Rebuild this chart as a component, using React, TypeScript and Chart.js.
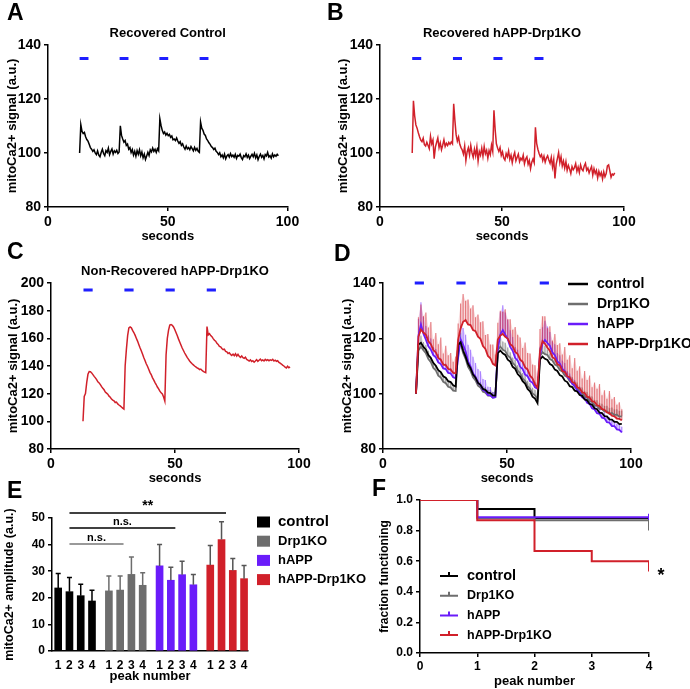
import React, { useEffect, useRef } from 'react';
import { Chart, registerables } from 'chart.js';

Chart.register(...registerables);

const FONT = '"Liberation Sans", Arial, Helvetica, sans-serif';
const PAGE_W = 690;
const PAGE_H = 689;

const BLACK = '#000000';
const GREY = '#6e6e6e';
const PURPLE = '#6a1cfa';
const RED = '#d1202a';
const BLUE = '#1f1fff';

// ---------- Panels A / B / C : single traces (sampled every 0.5 s) ----------
const traceDt = 0.5;
const traceA_t0 = 13.2;
const traceA = [
  100, 110.5, 108.0, 107.2, 107.6, 106.0, 105.0, 104.4, 103.2, 102.0,
  101.4, 100.6, 101.2, 100.0, 99.4, 100.8, 99.2, 98.6, 100.2, 101.4,
  99.8, 99.0, 100.9, 100.2, 101.8, 99.4, 100.6, 101.5, 99.6, 100.8,
  100.2, 101.0, 99.8, 100.4,
  110.1, 106.5, 105.2, 104.0, 104.6, 102.8, 103.3, 101.4, 102.0, 100.2,
  101.3, 99.2, 100.6, 98.8, 100.9, 99.5, 101.2, 99.0, 100.4, 98.2,
  99.6, 97.6, 98.9, 100.3, 99.1, 101.2, 100.4, 101.8, 100.6, 101.4,
  100.2, 101.6, 100.8,
  112.7, 110.2, 108.4, 107.2, 107.8, 106.6, 107.3, 106.4, 106.9, 105.8,
  106.3, 104.9, 105.2, 104.6, 105.6, 104.4, 103.6, 104.2, 102.8, 103.4,
  102.2, 101.4, 102.6, 101.5, 102.0, 101.2, 102.4, 101.6, 100.8, 102.1,
  101.0, 101.7, 100.6, 100.2,
  111.5, 109.2, 108.4, 107.0, 106.5, 105.2, 104.6, 103.8, 103.2, 102.4,
  102.0, 101.3, 101.8, 100.6, 100.2, 99.4, 100.1, 98.6, 99.3, 98.2,
  99.6, 97.8, 98.9, 99.4, 98.5, 99.8, 98.7, 99.2, 98.4, 99.5,
  98.0, 99.1, 98.8, 99.6, 98.3, 97.6, 99.0, 98.6, 99.7, 98.4,
  99.2, 97.9, 98.8, 99.5, 98.6, 99.9, 98.2, 99.3, 97.5, 98.7,
  99.6, 98.4, 99.1, 97.8, 99.4, 98.9, 100.2, 98.5, 99.0, 98.1,
  99.7, 98.6, 99.3, 98.8, 99.5, 99.0,
];

const traceB_t0 = 13.2;
const traceB = [
  100, 119.3, 113.8, 110.4, 109.2, 107.5, 106.0, 104.8, 104.2, 105.5,
  103.1, 102.6, 104.0, 102.8, 101.6, 106.2, 103.4, 104.8, 97.9, 102.2,
  103.9, 105.6, 102.0, 103.8, 101.2, 102.9, 104.9, 102.4, 103.6, 102.8,
  103.9, 103.2, 104.1, 103.4,
  118.2, 112.0, 106.8, 104.4, 105.9, 103.2, 102.0, 101.1, 99.6, 102.6,
  97.2, 100.4, 101.9, 99.3, 102.8, 100.1, 98.4, 101.4, 99.0, 102.2,
  97.0, 100.6, 99.2, 101.8, 98.8, 102.4, 99.7, 101.0, 98.1, 100.9,
  99.4, 102.9, 100.6,
  115.8, 108.6, 103.4, 101.8, 100.6, 102.0, 99.1, 100.4, 98.2, 97.4,
  99.8, 98.6, 100.8, 97.6, 99.2, 96.4, 98.8, 100.2, 97.1, 98.4,
  99.6, 96.8, 98.1, 97.4, 99.2, 96.0, 97.8, 98.6, 95.8, 97.2,
  94.2, 96.6, 97.8, 96.4,
  109.5, 103.6, 101.4, 99.8, 98.6, 99.4, 97.2, 98.8, 96.6, 98.1,
  99.0, 97.4, 96.2, 98.4, 94.8, 97.6, 90.6, 95.8, 97.9, 100.2,
  96.4, 98.6, 95.2, 97.0, 94.4, 96.8, 93.6, 95.4, 94.1, 92.4,
  95.0, 93.8, 94.6, 96.1, 93.2, 94.8, 92.8, 95.6, 94.0, 93.4,
  95.2, 96.2, 93.6, 94.4, 92.6, 93.9, 95.0, 91.8, 94.2, 92.4,
  93.6, 90.8, 93.2, 91.6, 92.8, 90.4, 93.0, 91.2, 92.4, 95.2,
  95.6, 93.4, 91.0, 92.2, 91.8, 92.6,
];

const traceC_t0 = 12.9;
const traceC = [
  100, 118, 120, 128, 134, 136, 135.8, 135, 133.8, 132.5,
  131.4, 130.1, 128.6, 127.8, 126.5, 125.1, 123.9, 122.8, 121.2, 120.4,
  119.6, 118.2, 117.4, 116.1, 115.3, 114.8, 113.6, 113.9, 112.6, 111.8,
  111.2, 110.4, 109.6, 108.9,
  140, 152, 162, 167.5, 168.2, 167.6, 165.8, 164.2, 162.3, 160.1,
  158.0, 155.6, 153.2, 151.0, 148.6, 146.2, 144.0, 141.6, 139.8, 137.6,
  135.4, 133.8, 131.6, 130.0, 128.2, 126.6, 124.8, 123.4, 121.8, 120.6,
  119.8, 117.6, 114.6,
  148, 160, 166, 169.6, 170, 169.4, 168.2, 166.4, 164.2, 162.0,
  159.6, 157.4, 155.2, 153.0, 151.2, 149.4, 147.8, 146.2, 145.0, 143.6,
  142.6, 141.6, 140.8, 140.0, 139.4, 138.6, 138.2, 137.4, 137.8, 136.8,
  136.2, 135.6, 135.2,
  168.5, 162.5, 163.4, 162.0, 161.2, 159.8, 158.6, 157.9, 156.4, 155.6,
  154.2, 153.8, 152.6, 151.8, 152.2, 150.6, 150.2, 149.0, 149.6, 148.4,
  147.6, 148.6, 147.4, 148.8, 147.2, 148.4, 147.0, 146.2, 147.3, 146.0,
  145.6, 146.4, 144.8, 144.2, 143.6, 144.4, 143.2, 143.8, 142.8, 143.6,
  144.6, 143.4, 144.2, 145.0, 143.8, 144.4, 143.6, 144.8, 144.0, 144.6,
  143.8, 144.4, 144.0, 144.8, 143.6, 144.2, 143.4, 143.8, 142.6, 142.0,
  141.4, 140.6, 140.0, 139.2, 138.6, 139.8, 138.8, 139.4,
];

// stimulation bars (blue dashes)
const stimStartsAB = [13.2, 29.9, 46.5, 63.3];
const stimStartsC = [13.1, 29.6, 46.2, 62.8];
const stimStartsD = [12.8, 29.6, 46.4, 63.2];
const stimLen = 3.7;
const stimLevelAB = 135;
const stimLevelC = 195;
const stimLevelD = 140;

// ---------- Panel D : group means (1 s sampling) + upper SEM ----------
const meanT0 = 13.3;
const meanDt = 1;
const dControl = [
  100, 117.8, 118.4, 116.9, 115.9, 113.9, 112.9, 111.1, 110.1, 108.5, 107.8, 106.3, 105.8, 104.5, 104.2, 103.0, 102.6,
  117.6, 118.6, 115.6, 113.4, 110.7, 109.2, 106.9, 105.8, 103.9, 103.2, 101.7, 101.4, 100.4, 100.2, 99.4, 99.3,
  114.6, 115.6, 114.6, 114.0, 112.3, 111.6, 109.7, 109.0, 107.1, 106.2, 104.5, 103.6, 101.7, 100.8, 98.9, 98.2, 96.6,
  112.4, 113.4, 112.6, 112.2, 110.7, 110.2, 108.7, 108.2, 106.7, 106.2, 104.7, 104.2, 102.7, 102.4, 101.1, 100.8, 99.5,
  99.2, 97.9, 97.6, 96.3, 96.0, 94.7, 94.4, 93.1, 93.0, 91.9, 91.8, 90.7, 90.6, 89.8, 89.8, 89.0, 89.1,
];
const dDrp1 = [
  100, 115.6, 117.0, 115.7, 114.6, 112.5, 111.4, 109.3, 108.4, 106.5, 105.8, 104.3, 103.8, 102.5, 102.2, 101.1, 101.0,
  116.4, 118.0, 114.7, 112.6, 109.7, 108.2, 105.9, 104.8, 102.9, 102.2, 100.7, 100.4, 99.3, 99.4, 98.6, 98.7,
  115.8, 117.0, 115.9, 115.4, 113.7, 113.0, 111.1, 110.2, 108.3, 107.4, 105.5, 104.6, 102.7, 101.8, 100.1, 99.4, 98.0,
  113.6, 115.0, 114.3, 114.0, 112.5, 112.0, 110.5, 110.0, 108.5, 108.0, 106.5, 106.0, 104.5, 104.0, 102.5, 102.0, 100.5,
  100.2, 98.9, 98.6, 97.3, 97.0, 95.7, 95.6, 94.5, 94.4, 93.5, 93.6, 92.7, 93.0, 92.3, 92.4, 91.7, 91.8,
];
const dHapp = [
  100, 121.0, 125.0, 121.7, 119.5, 117.1, 115.9, 113.9, 113.1, 111.3, 110.7, 109.1, 108.9, 107.5, 107.3, 105.9, 105.6,
  113.0, 119.6, 117.7, 115.3, 111.7, 109.9, 107.3, 106.1, 103.9, 103.1, 101.3, 100.9, 99.5, 99.4, 98.5, 98.8,
  116.0, 121.4, 123.0, 121.3, 119.7, 116.9, 115.5, 112.9, 111.9, 109.7, 108.9, 106.9, 106.3, 104.5, 103.9, 102.3, 101.8,
  114.0, 118.0, 119.4, 118.3, 117.3, 114.9, 113.9, 111.7, 110.9, 108.9, 108.1, 106.1, 105.3, 103.5, 102.9, 101.1, 100.5,
  98.7, 98.3, 96.7, 96.3, 94.7, 94.3, 92.9, 92.7, 91.3, 91.1, 89.7, 89.5, 88.3, 88.3, 87.1, 86.9, 86.0,
];
const dDko = [
  100, 120.6, 123.2, 122.1, 121.3, 118.9, 117.9, 115.7, 114.9, 112.9, 112.3, 110.5, 110.3, 108.9, 108.7, 107.5, 107.4,
  119.4, 123.6, 126.0, 126.6, 125.0, 124.8, 123.0, 122.6, 120.6, 119.8, 117.2, 116.2, 113.6, 112.8, 110.8, 110.2,
  119.6, 121.0, 121.6, 120.5, 119.9, 117.9, 117.1, 115.1, 114.3, 112.3, 111.5, 109.5, 108.7, 106.5, 105.5, 103.3, 102.2,
  115.4, 119.0, 118.0, 116.6, 115.4, 113.2, 112.6, 110.6, 110.2, 108.2, 107.9, 106.3, 105.9, 104.2, 103.9, 102.3, 101.9,
  100.5, 100.2, 98.9, 98.6, 97.3, 97.0, 95.8, 95.5, 94.4, 94.2, 93.2, 93.0, 92.0, 91.8, 91.0, 90.9, 90.4,
];
const errDrp1 = [
  0, 3, 4, 3, 3, 3, 2, 2, 2, 2, 2, 2, 2, 2, 2, 2, 2,
  3, 4, 3, 3, 2, 2, 2, 2, 2, 2, 2, 2, 2, 2, 2, 2,
  3, 4, 3, 3, 3, 2, 2, 2, 2, 2, 2, 2, 2, 2, 2, 2, 2,
  3, 3, 3, 2, 2, 2, 2, 2, 2, 2, 2, 2, 2, 2, 2, 2, 2,
  2, 2, 2, 2, 2, 2, 2, 2, 2, 2, 2, 2, 2, 2, 2, 2, 2,
];
const errHapp = [
  0, 6, 8, 6, 5, 4, 4, 3, 3, 3, 2, 2, 2, 2, 2, 2, 2,
  3, 5, 6, 6, 6, 6, 6, 5, 5, 5, 4, 4, 3, 3, 2, 2,
  3, 8, 9, 8, 7, 6, 5, 4, 4, 3, 3, 3, 3, 2, 2, 2, 2,
  3, 6, 7, 6, 5, 4, 4, 3, 3, 3, 3, 2, 2, 2, 2, 2, 2,
  2, 2, 2, 2, 2, 2, 2, 2, 2, 2, 2, 2, 2, 2, 2, 2, 2,
];
const errDko = [
  0, 7, 9, 6, 8, 5, 8, 4, 7, 5, 8, 4, 7, 5, 6, 4, 6,
  6, 9, 10, 7, 9, 6, 9, 5, 8, 6, 9, 5, 8, 5, 7, 4,
  6, 9, 8, 10, 7, 9, 6, 9, 7, 8, 5, 9, 6, 8, 5, 7, 4,
  8, 9, 10, 7, 9, 6, 9, 7, 8, 6, 9, 6, 8, 5, 9, 6, 8,
  5, 8, 6, 8, 5, 7, 6, 8, 5, 7, 5, 8, 6, 7, 5, 6, 4,
];

// ---------- Panel E : amplitudes ----------
const groupNames = ['control', 'Drp1KO', 'hAPP', 'hAPP-Drp1KO'];
const peakLabels = ['1', '2', '3', '4'];
const ampControl = [23.7, 22.3, 20.8, 18.8];
const ampDrp1 = [22.6, 22.9, 28.8, 24.7];
const ampHapp = [32.0, 26.6, 28.7, 24.9];
const ampDko = [32.3, 41.9, 30.3, 27.2];
const ampErrControl = [5.4, 5.3, 4.3, 4.0];
const ampErrDrp1 = [5.6, 5.3, 6.5, 4.7];
const ampErrHapp = [8.0, 4.9, 5.0, 3.9];
const ampErrDko = [7.4, 6.7, 4.5, 4.9];
// significance brackets: [from bar slot, to bar slot, height, label]
const sigFrom = [1, 1, 1];
const sigTo = [5.8, 10.4, 14.9];
const sigLevel = [40.2, 46.2, 51.9];
const sigLabel = ['n.s.', 'n.s.', '**'];

// ---------- Panel F : fraction functioning ----------
const kmControlX = [0, 1, 2, 4];
const kmControlY = [1, 0.941, 0.882, 0.882];
const kmDrp1X = [0, 1, 2, 4, 4];
const kmDrp1Y = [1, 0.88, 0.867, 0.867, 0.8];
const kmHappX = [0, 1, 4, 4, 4];
const kmHappY = [1, 0.887, 0.887, 0.91, 0.87];
const kmDkoX = [0, 1, 2, 3, 4, 4];
const kmDkoY = [1, 0.867, 0.667, 0.6, 0.6, 0.533];
const starF = { x: 4.21, y: 0.53, text: '*' };

// ---------- helpers ----------
type Frame = { L: number; R: number; T: number; B: number; yTitleX: number; xTitleY: number; xTickY: number };
type TextItem = { text: string; x: number; y: number; size: number; align?: CanvasTextAlign; baseline?: CanvasTextBaseline; color?: string };

function drawTexts(ctx: CanvasRenderingContext2D, items: TextItem[]) {
  for (const it of items) {
    ctx.font = `bold ${it.size}px ${FONT}`;
    ctx.fillStyle = it.color || '#000';
    ctx.textAlign = it.align || 'center';
    ctx.textBaseline = it.baseline || 'middle';
    ctx.fillText(it.text, it.x, it.y);
  }
}

const textPlugin = (items: TextItem[]) => ({
  id: 'panelTexts',
  afterDraw(chart: any) {
    const ctx = chart.ctx;
    ctx.save();
    drawTexts(ctx, items);
    ctx.restore();
  },
});

type LegendSpec = { kind: 'line' | 'box' | 'km'; x0: number; x1: number; textX: number; y0: number; dy: number; lw: number; boxH?: number };
const legendPlugin = (colors: string[], sizes: number[], spec: LegendSpec) => ({
  id: 'customLegend',
  afterDraw(chart: any) {
    const ctx: CanvasRenderingContext2D = chart.ctx;
    ctx.save();
    groupNames.forEach((name, i) => {
      const y = spec.y0 + i * spec.dy;
      if (spec.kind === 'box') {
        ctx.fillStyle = colors[i];
        const h = spec.boxH || 11;
        ctx.fillRect(spec.x0, y - h / 2, spec.x1 - spec.x0, h);
      } else {
        ctx.strokeStyle = colors[i];
        ctx.lineWidth = spec.lw;
        ctx.beginPath();
        ctx.moveTo(spec.x0, y);
        ctx.lineTo(spec.x1, y);
        if (spec.kind === 'km') {
          const mx = (spec.x0 + spec.x1) / 2;
          ctx.moveTo(mx, y - 4);
          ctx.lineTo(mx, y);
        }
        ctx.stroke();
      }
      drawTexts(ctx, [{ text: name, x: spec.textX, y, size: sizes[i], align: 'left' }]);
    });
    ctx.restore();
  },
});

function makeOptions(f: Frame, c: any) {
  const padLeft = f.yTitleX - c.yTitleSize * 0.6;
  const xH = f.xTitleY + c.xTitleSize * 0.6 - f.B;
  const xPad = f.xTickY - f.B - c.xTickLen - c.xTickSize * 0.6;
  return {
    responsive: false,
    animation: false,
    devicePixelRatio: 1,
    events: [],
    layout: { padding: { left: padLeft, top: f.T, right: PAGE_W - f.R, bottom: PAGE_H - f.B - xH } },
    plugins: { legend: { display: false }, tooltip: { enabled: false }, title: { display: false } },
    scales: {
      x: {
        type: 'linear',
        min: c.xMin,
        max: c.xMax,
        offset: false,
        afterBuildTicks: c.xAfterBuild,
        ticks: {
          stepSize: c.xStep,
          autoSkip: false,
          maxRotation: 0,
          minRotation: 0,
          padding: xPad,
          color: '#000',
          font: { family: FONT, size: c.xTickSize, weight: 'bold' },
          callback: c.xCallback,
        },
        grid: { drawOnChartArea: false, drawTicks: c.xTickLen > 0, tickLength: c.xTickLen, color: '#000', lineWidth: 1.5, offset: false },
        border: { display: true, color: '#000', width: 1.5 },
        title: { display: true, text: c.xTitle, color: '#000', padding: 0, font: { family: FONT, size: c.xTitleSize, weight: 'bold' } },
        afterFit: (s: any) => {
          s.height = xH;
        },
      },
      y: {
        type: 'linear',
        min: c.yMin,
        max: c.yMax,
        ticks: {
          stepSize: c.yStep,
          padding: 3,
          color: '#000',
          font: { family: FONT, size: c.yTickSize, weight: 'bold' },
          callback: c.yCallback,
        },
        grid: { drawOnChartArea: false, drawTicks: true, tickLength: 4, color: '#000', lineWidth: 1.5 },
        border: { display: true, color: '#000', width: 1.5 },
        title: { display: true, text: c.yTitle, color: '#000', padding: 0, font: { family: FONT, size: c.yTitleSize, weight: 'bold' } },
        afterFit: (s: any) => {
          s.width = f.L - padLeft;
        },
      },
    },
  };
}

const toPoints = (t0: number, dt: number, vals: number[]) => vals.map((v, i) => ({ x: t0 + i * dt, y: v }));
const zip = (xs: number[], ys: number[]) => xs.map((x, i) => ({ x, y: ys[i] }));
const stimPoints = (starts: number[], len: number, level: number) =>
  starts.flatMap((s) => [
    { x: s, y: level },
    { x: s + len, y: level },
    { x: s + len, y: null },
  ]);

const stimDataset = (starts: number[], level: number) => ({
  data: stimPoints(starts, stimLen, level),
  borderColor: BLUE,
  borderWidth: 3,
  borderCapStyle: 'butt',
  pointRadius: 0,
  spanGaps: false,
  clip: false,
  order: -1,
});

const traceDataset = (pts: any[], color: string, width = 1.5, order = 0) => ({
  data: pts,
  borderColor: color,
  borderWidth: width,
  pointRadius: 0,
  tension: 0,
  order,
});

const FRAME_A: Frame = { L: 48, R: 287.5, T: 45, B: 207, yTitleX: 12, xTitleY: 236, xTickY: 222 };
const FRAME_B: Frame = { L: 380, R: 624, T: 45, B: 207, yTitleX: 343, xTitleY: 236, xTickY: 222 };
const FRAME_C: Frame = { L: 51, R: 299, T: 283, B: 449, yTitleX: 13, xTitleY: 478, xTickY: 464 };
const FRAME_D: Frame = { L: 383, R: 631, T: 283, B: 449, yTitleX: 347, xTitleY: 478, xTickY: 464 };
const FRAME_E: Frame = { L: 52, R: 248, T: 518, B: 651, yTitleX: 10, xTitleY: 676, xTickY: 666 };
const FRAME_F: Frame = { L: 420, R: 649, T: 500, B: 653, yTitleX: 385, xTitleY: 681, xTickY: 667 };

const timeAxis = { xMin: 0, xMax: 100, xStep: 50, xTitle: 'seconds', xTitleSize: 13, xTickSize: 14, xTickLen: 4, yTitle: 'mitoCa2+ signal (a.u.)', yTitleSize: 13, yTickSize: 14 };

function makeTraceChart(canvas: HTMLCanvasElement, f: Frame, pts: any[], color: string, stims: number[], level: number, yMin: number, yMax: number, title: string, letter: string, letterX: number, letterY: number) {
  return new Chart(canvas, {
    type: 'line',
    data: { datasets: [stimDataset(stims, level), traceDataset(pts, color)] as any },
    options: makeOptions(f, { ...timeAxis, yMin, yMax, yStep: 20 }) as any,
    plugins: [
      textPlugin([
        { text: title, x: (f.L + f.R) / 2, y: f.T - 12, size: 13 },
        { text: letter, x: letterX, y: letterY, size: 23, align: 'left', baseline: 'alphabetic' },
      ]),
    ],
  });
}

function makeD(canvas: HTMLCanvasElement) {
  const series = [
    { vals: dDrp1, err: errDrp1, line: 'rgba(110,110,110,0.55)', fill: 'rgba(110,110,110,0.18)' },
    { vals: dHapp, err: errHapp, line: 'rgba(110,40,255,0.5)', fill: 'rgba(110,40,255,0.16)' },
    { vals: dDko, err: errDko, line: 'rgba(214,40,48,0.55)', fill: 'rgba(214,40,48,0.16)' },
  ];
  const errPlugin = {
    id: 'semD',
    beforeDatasetsDraw(chart: any) {
      const { ctx, chartArea: ca, scales } = chart;
      ctx.save();
      ctx.beginPath();
      ctx.rect(ca.left, ca.top, ca.right - ca.left, ca.bottom - ca.top);
      ctx.clip();
      for (const s of series) {
        const px = (i: number) => scales.x.getPixelForValue(meanT0 + i * meanDt);
        // light band between mean and mean + SEM
        ctx.fillStyle = s.fill;
        ctx.beginPath();
        s.vals.forEach((v, i) => {
          const X = px(i);
          const Y = scales.y.getPixelForValue(v + s.err[i]);
          if (i === 0) ctx.moveTo(X, Y);
          else ctx.lineTo(X, Y);
        });
        for (let i = s.vals.length - 1; i >= 0; i--) ctx.lineTo(px(i), scales.y.getPixelForValue(s.vals[i]));
        ctx.closePath();
        ctx.fill();
        // individual SEM bars
        ctx.strokeStyle = s.line;
        ctx.lineWidth = 1.2;
        ctx.beginPath();
        s.vals.forEach((v, i) => {
          const e = s.err[i];
          if (!e) return;
          ctx.moveTo(px(i), scales.y.getPixelForValue(v));
          ctx.lineTo(px(i), scales.y.getPixelForValue(v + e));
        });
        ctx.stroke();
      }
      ctx.restore();
    },
  };
  return new Chart(canvas, {
    type: 'line',
    data: {
      datasets: [
        stimDataset(stimStartsD, stimLevelD),
        traceDataset(toPoints(meanT0, meanDt, dControl), BLACK, 1.8, 1),
        traceDataset(toPoints(meanT0, meanDt, dDrp1), GREY, 1.8, 3),
        traceDataset(toPoints(meanT0, meanDt, dHapp), PURPLE, 1.8, 2),
        traceDataset(toPoints(meanT0, meanDt, dDko), RED, 1.8, 0),
      ] as any,
    },
    options: makeOptions(FRAME_D, { ...timeAxis, yMin: 80, yMax: 140, yStep: 20 }) as any,
    plugins: [
      errPlugin,
      legendPlugin([BLACK, GREY, PURPLE, RED], [14, 14, 14, 14], { kind: 'line', x0: 568, x1: 588, textX: 597, y0: 284, dy: 20, lw: 2.5 }),
      textPlugin([{ text: 'D', x: 334, y: 261, size: 23, align: 'left', baseline: 'alphabetic' }]),
    ],
  });
}

function makeE(canvas: HTMLCanvasElement) {
  const groupStep = 4.5;
  const slot = (g: number, k: number) => g * groupStep + k;
  const values = [ampControl, ampDrp1, ampHapp, ampDko];
  const errs = [ampErrControl, ampErrDrp1, ampErrHapp, ampErrDko];
  const colors = [BLACK, '#6d6d6d', PURPLE, RED];
  const errColors = [BLACK, '#6d6d6d', '#555555', '#555555'];
  const positions = values.flatMap((vals, g) => vals.map((_, k) => slot(g, k)));
  const errPlugin = {
    id: 'ampErr',
    afterDatasetsDraw(chart: any) {
      const { ctx, scales } = chart;
      ctx.save();
      ctx.lineWidth = 1.5;
      values.forEach((vals, g) => {
        ctx.strokeStyle = errColors[g];
        vals.forEach((v, k) => {
          const px = scales.x.getPixelForValue(slot(g, k));
          const top = scales.y.getPixelForValue(v + errs[g][k]);
          const base = scales.y.getPixelForValue(v);
          ctx.beginPath();
          ctx.moveTo(px, base);
          ctx.lineTo(px, top);
          ctx.moveTo(px - 2.5, top);
          ctx.lineTo(px + 2.5, top);
          ctx.stroke();
        });
      });
      // significance brackets
      sigFrom.forEach((x1, i) => {
        const x2 = sigTo[i];
        const y = scales.y.getPixelForValue(sigLevel[i]);
        const color = i === 0 ? '#777777' : '#000000';
        ctx.strokeStyle = color;
        ctx.lineWidth = 1.5;
        ctx.beginPath();
        ctx.moveTo(scales.x.getPixelForValue(x1), y);
        ctx.lineTo(scales.x.getPixelForValue(x2), y);
        ctx.stroke();
        const label = sigLabel[i];
        drawTexts(ctx, [{ text: label, x: scales.x.getPixelForValue((x1 + x2) / 2), y: y - (label === '**' ? 7 : 6), size: label === '**' ? 14 : 11 }]);
      });
      ctx.restore();
    },
  };
  return new Chart(canvas, {
    type: 'bar',
    data: {
      datasets: values.map((vals, g) => ({
        label: groupNames[g],
        data: vals.map((v, k) => ({ x: slot(g, k), y: v })),
        backgroundColor: colors[g],
        borderWidth: 0,
        barThickness: 7,
        grouped: false,
      })) as any,
    },
    options: makeOptions(FRAME_E, {
      xMin: -0.55,
      xMax: 16.85,
      xStep: 1,
      xTitle: 'peak number',
      xTitleSize: 13,
      xTickSize: 12,
      xTickLen: 0,
      xAfterBuild: (s: any) => {
        s.ticks = positions.map((v) => ({ value: v }));
      },
      xCallback: (_v: any, i: number) => peakLabels[i % 4],
      yMin: 0,
      yMax: 50,
      yStep: 10,
      yTitle: 'mitoCa2+ amplitude (a.u.)',
      yTitleSize: 12.5,
      yTickSize: 12,
    }) as any,
    plugins: [
      errPlugin,
      legendPlugin(colors, [15, 13, 13, 13], { kind: 'box', x0: 257, x1: 270, textX: 278, y0: 522, dy: 19.2, lw: 0, boxH: 11 }),
      textPlugin([{ text: 'E', x: 7, y: 498, size: 23, align: 'left', baseline: 'alphabetic' }]),
    ],
  });
}

function makeF(canvas: HTMLCanvasElement) {
  const km = (xs: number[], ys: number[], color: string, order: number) => ({
    data: zip(xs, ys),
    borderColor: color,
    borderWidth: 2,
    pointRadius: 0,
    stepped: true,
    order,
  });
  const starPlugin = {
    id: 'starF',
    afterDraw(chart: any) {
      const { ctx, scales } = chart;
      ctx.save();
      drawTexts(ctx, [{ text: starF.text, x: scales.x.getPixelForValue(starF.x), y: scales.y.getPixelForValue(starF.y) + 4, size: 18 }]);
      ctx.restore();
    },
  };
  return new Chart(canvas, {
    type: 'line',
    data: {
      datasets: [
        km(kmControlX, kmControlY, BLACK, 3),
        km(kmDrp1X, kmDrp1Y, GREY, 2),
        km(kmHappX, kmHappY, PURPLE, 1),
        km(kmDkoX, kmDkoY, RED, 0),
      ] as any,
    },
    options: makeOptions(FRAME_F, {
      xMin: 0,
      xMax: 4,
      xStep: 1,
      xTitle: 'peak number',
      xTitleSize: 13,
      xTickSize: 12,
      xTickLen: 4,
      yMin: 0,
      yMax: 1,
      yStep: 0.2,
      yCallback: (v: any) => Number(v).toFixed(1),
      yTitle: 'fraction functioning',
      yTitleSize: 12,
      yTickSize: 12,
    }) as any,
    plugins: [
      starPlugin,
      legendPlugin([BLACK, GREY, PURPLE, RED], [14.5, 12.5, 12.5, 12.5], { kind: 'km', x0: 440, x1: 458, textX: 467, y0: 576, dy: 19.7, lw: 2 }),
      textPlugin([{ text: 'F', x: 372, y: 496, size: 23, align: 'left', baseline: 'alphabetic' }]),
    ],
  });
}

export default function App() {
  const r0 = useRef<HTMLCanvasElement>(null);
  const r1 = useRef<HTMLCanvasElement>(null);
  const r2 = useRef<HTMLCanvasElement>(null);
  const r3 = useRef<HTMLCanvasElement>(null);
  const r4 = useRef<HTMLCanvasElement>(null);
  const r5 = useRef<HTMLCanvasElement>(null);
  const refs = [r0, r1, r2, r3, r4, r5];

  useEffect(() => {
    Chart.defaults.font.family = FONT;
    const charts = [
      makeTraceChart(r0.current!, FRAME_A, toPoints(traceA_t0, traceDt, traceA), BLACK, stimStartsAB, stimLevelAB, 80, 140, 'Recovered Control', 'A', 7, 20),
      makeTraceChart(r1.current!, FRAME_B, toPoints(traceB_t0, traceDt, traceB), RED, stimStartsAB, stimLevelAB, 80, 140, 'Recovered hAPP-Drp1KO', 'B', 327, 20),
      makeTraceChart(r2.current!, FRAME_C, toPoints(traceC_t0, traceDt, traceC), RED, stimStartsC, stimLevelC, 80, 200, 'Non-Recovered hAPP-Drp1KO', 'C', 7, 259),
      makeD(r3.current!),
      makeE(r4.current!),
      makeF(r5.current!),
    ];
    return () => charts.forEach((c) => c.destroy());
  }, []);

  return (
    <div style={{ position: 'absolute', left: 0, top: 0, width: PAGE_W, height: PAGE_H, overflow: 'hidden', background: '#fff' }}>
      {refs.map((r, i) => (
        <canvas key={i} ref={r} width={PAGE_W} height={PAGE_H} style={{ position: 'absolute', left: 0, top: 0, width: PAGE_W, height: PAGE_H }} />
      ))}
    </div>
  );
}
